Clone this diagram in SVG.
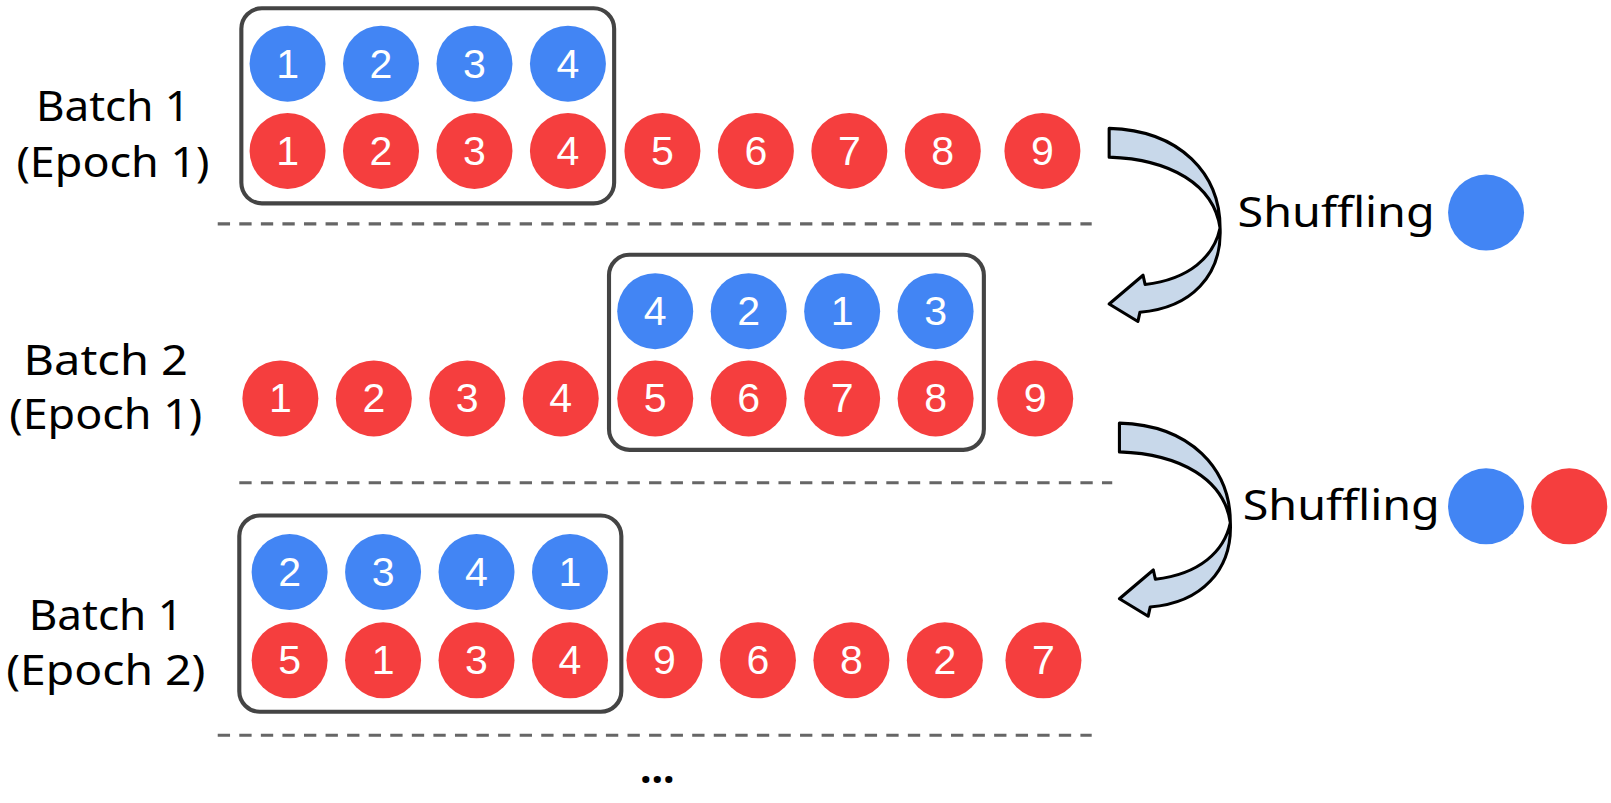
<svg xmlns="http://www.w3.org/2000/svg" width="1611" height="803" viewBox="0 0 1611 803">
<defs>
<style>
.b{fill:#4285f4}.r{fill:#f53e3e}
.n{fill:#fff;font-family:"Liberation Sans",Arial,sans-serif;font-size:40px;text-anchor:middle;dominant-baseline:central}
.l{fill:#000;font-family:"Noto Sans",sans-serif;font-size:40px;text-anchor:middle}
.box{fill:none;stroke:#444;stroke-width:4}
.d{stroke:#666;stroke-width:3;stroke-dasharray:12,9}
.arr{fill:#c8d8ea;stroke:#000;stroke-width:3;stroke-linejoin:round}
</style>
<path id="ar" d="M1080,125 C1150,127 1188,170 1188,222 C1190,268 1160,300 1110,304 L1108,313 L1080,296 L1113,268 L1115,277 C1158,272 1182,250 1188,222 C1182,180 1140,155 1080,153 Z"/>
</defs>
<rect width="1611" height="803" fill="#fff"/>
<g transform="scale(1.027)">
<g id="labels">
<text class="l" x="110" y="118" textLength="150" lengthAdjust="spacingAndGlyphs">Batch 1</text><text class="l" x="110" y="172" textLength="188" lengthAdjust="spacingAndGlyphs">(Epoch 1)</text>
<text class="l" x="103" y="365" textLength="160" lengthAdjust="spacingAndGlyphs">Batch 2</text><text class="l" x="103" y="418" textLength="188" lengthAdjust="spacingAndGlyphs">(Epoch 1)</text>
<text class="l" x="103" y="613" textLength="150" lengthAdjust="spacingAndGlyphs">Batch 1</text><text class="l" x="103" y="667" textLength="194" lengthAdjust="spacingAndGlyphs">(Epoch 2)</text>
<text class="l" x="1301" y="221" textLength="192" lengthAdjust="spacingAndGlyphs">Shuffling</text>
<text class="l" x="1306" y="506" textLength="192" lengthAdjust="spacingAndGlyphs">Shuffling</text>
<text class="l" x="640" y="762" font-weight="bold">...</text>
</g>
<g id="row1">
<circle class="b" cx="280" cy="62" r="37"/><text class="n" x="280" y="62">1</text>
<circle class="b" cx="371" cy="62" r="37"/><text class="n" x="371" y="62">2</text>
<circle class="b" cx="462" cy="62" r="37"/><text class="n" x="462" y="62">3</text>
<circle class="b" cx="553" cy="62" r="37"/><text class="n" x="553" y="62">4</text>
<circle class="r" cx="280" cy="147" r="37"/><text class="n" x="280" y="147">1</text>
<circle class="r" cx="371" cy="147" r="37"/><text class="n" x="371" y="147">2</text>
<circle class="r" cx="462" cy="147" r="37"/><text class="n" x="462" y="147">3</text>
<circle class="r" cx="553" cy="147" r="37"/><text class="n" x="553" y="147">4</text>
<circle class="r" cx="645" cy="147" r="37"/><text class="n" x="645" y="147">5</text>
<circle class="r" cx="736" cy="147" r="37"/><text class="n" x="736" y="147">6</text>
<circle class="r" cx="827" cy="147" r="37"/><text class="n" x="827" y="147">7</text>
<circle class="r" cx="918" cy="147" r="37"/><text class="n" x="918" y="147">8</text>
<circle class="r" cx="1015" cy="147" r="37"/><text class="n" x="1015" y="147">9</text>
<rect class="box" x="235" y="8" width="363" height="190" rx="20"/>
</g>
<g id="row2">
<circle class="b" cx="638" cy="303" r="37"/><text class="n" x="638" y="303">4</text>
<circle class="b" cx="729" cy="303" r="37"/><text class="n" x="729" y="303">2</text>
<circle class="b" cx="820" cy="303" r="37"/><text class="n" x="820" y="303">1</text>
<circle class="b" cx="911" cy="303" r="37"/><text class="n" x="911" y="303">3</text>
<circle class="r" cx="273" cy="388" r="37"/><text class="n" x="273" y="388">1</text>
<circle class="r" cx="364" cy="388" r="37"/><text class="n" x="364" y="388">2</text>
<circle class="r" cx="455" cy="388" r="37"/><text class="n" x="455" y="388">3</text>
<circle class="r" cx="546" cy="388" r="37"/><text class="n" x="546" y="388">4</text>
<circle class="r" cx="638" cy="388" r="37"/><text class="n" x="638" y="388">5</text>
<circle class="r" cx="729" cy="388" r="37"/><text class="n" x="729" y="388">6</text>
<circle class="r" cx="820" cy="388" r="37"/><text class="n" x="820" y="388">7</text>
<circle class="r" cx="911" cy="388" r="37"/><text class="n" x="911" y="388">8</text>
<circle class="r" cx="1008" cy="388" r="37"/><text class="n" x="1008" y="388">9</text>
<rect class="box" x="593" y="248" width="365" height="190" rx="20"/>
</g>
<g id="row3">
<circle class="b" cx="282" cy="557" r="37"/><text class="n" x="282" y="557">2</text>
<circle class="b" cx="373" cy="557" r="37"/><text class="n" x="373" y="557">3</text>
<circle class="b" cx="464" cy="557" r="37"/><text class="n" x="464" y="557">4</text>
<circle class="b" cx="555" cy="557" r="37"/><text class="n" x="555" y="557">1</text>
<circle class="r" cx="282" cy="643" r="37"/><text class="n" x="282" y="643">5</text>
<circle class="r" cx="373" cy="643" r="37"/><text class="n" x="373" y="643">1</text>
<circle class="r" cx="464" cy="643" r="37"/><text class="n" x="464" y="643">3</text>
<circle class="r" cx="555" cy="643" r="37"/><text class="n" x="555" y="643">4</text>
<circle class="r" cx="647" cy="643" r="37"/><text class="n" x="647" y="643">9</text>
<circle class="r" cx="738" cy="643" r="37"/><text class="n" x="738" y="643">6</text>
<circle class="r" cx="829" cy="643" r="37"/><text class="n" x="829" y="643">8</text>
<circle class="r" cx="920" cy="643" r="37"/><text class="n" x="920" y="643">2</text>
<circle class="r" cx="1016" cy="643" r="37"/><text class="n" x="1016" y="643">7</text>
<rect class="box" x="233" y="502" width="372" height="191" rx="20"/>
</g>
<g id="legend">
<circle class="b" cx="1447" cy="207" r="37"/>
<circle class="b" cx="1447" cy="493" r="37"/>
<circle class="r" cx="1528" cy="493" r="37"/>
</g>
<g id="connectors">
<line class="d" x1="212" y1="218" x2="1063" y2="218"/>
<line class="d" x1="233" y1="470" x2="1083" y2="470"/>
<line class="d" x1="212" y1="716" x2="1063" y2="716"/>
<use href="#ar" class="arr"/>
<use href="#ar" class="arr" transform="translate(10,287)"/>
</g>
</g>
</svg>
